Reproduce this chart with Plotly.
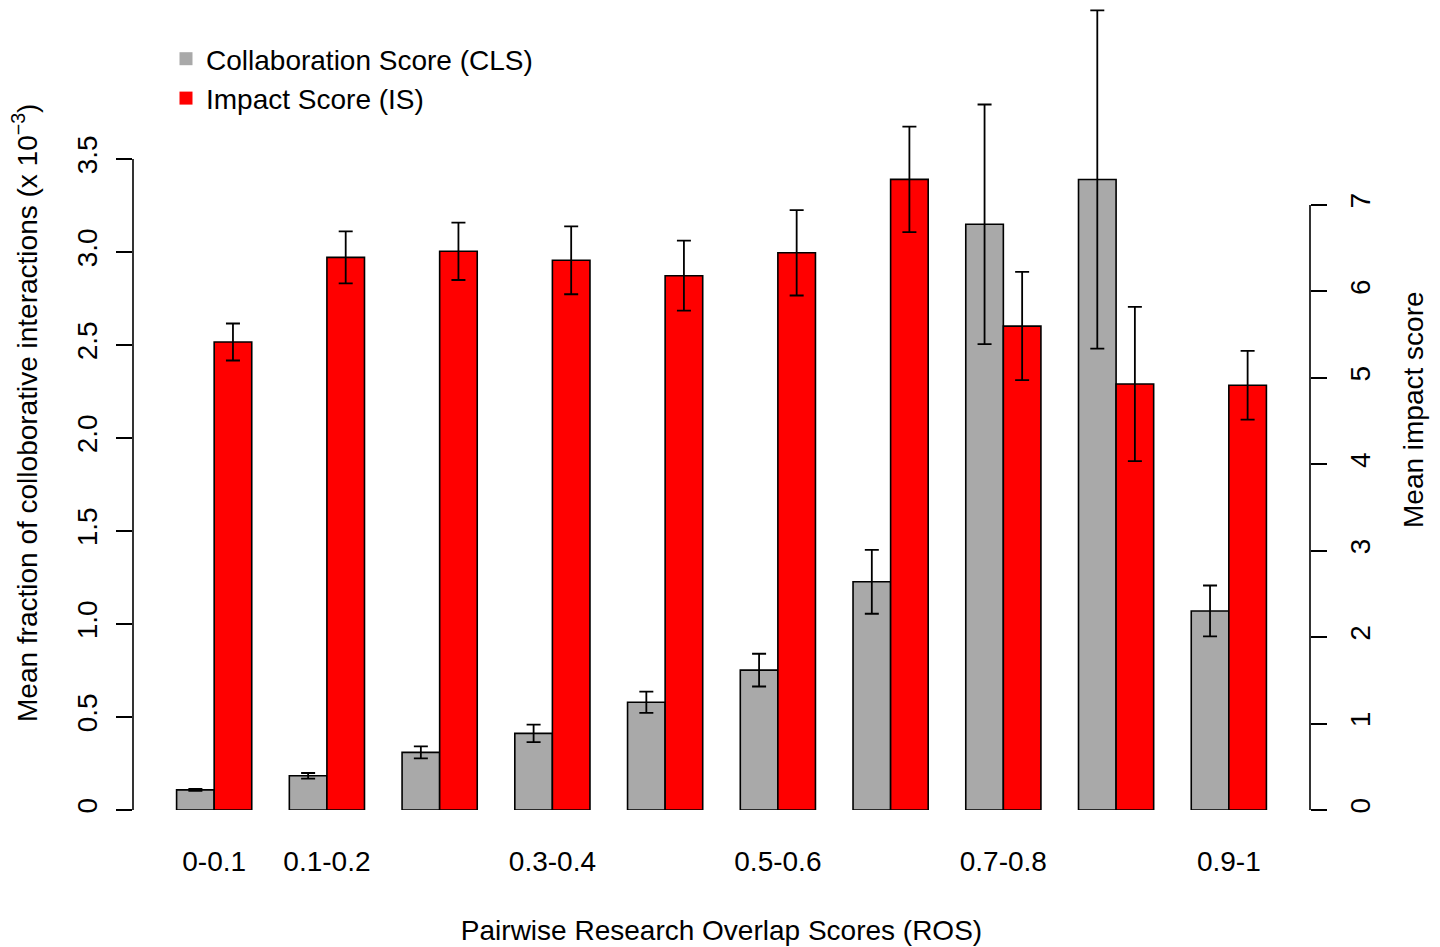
import plotly.graph_objects as go

categories = ["0-0.1", "0.1-0.2", "0.2-0.3", "0.3-0.4", "0.4-0.5",
              "0.5-0.6", "0.6-0.7", "0.7-0.8", "0.8-0.9", "0.9-1"]
shown_labels = ["0-0.1", "0.1-0.2", "0.3-0.4", "0.5-0.6", "0.7-0.8", "0.9-1"]

cls_mean = [0.108, 0.184, 0.310, 0.412, 0.579, 0.752, 1.227, 3.149, 3.390, 1.070]
cls_err = [0.005, 0.015, 0.032, 0.047, 0.057, 0.088, 0.172, 0.644, 0.909, 0.137]
is_mean = [5.415, 6.394, 6.464, 6.360, 6.182, 6.447, 7.296, 5.599, 4.929, 4.914]
is_err = [0.214, 0.300, 0.332, 0.393, 0.405, 0.494, 0.611, 0.626, 0.892, 0.398]

left_ticks = [0, 0.5, 1.0, 1.5, 2.0, 2.5, 3.0, 3.5]
left_ticktext = ["0", "0.5", "1.0", "1.5", "2.0", "2.5", "3.0", "3.5"]
right_ticks = [0, 1, 2, 3, 4, 5, 6, 7]

GREY = "#A9A9A9"
RED = "#FF0000"
FONT = "Liberation Sans, Arial, sans-serif"

# R barplot(beside=TRUE) positions: group stride 3, bar width 1
grey_x = [3 * i + 1.5 for i in range(len(categories))]
red_x = [3 * i + 2.5 for i in range(len(categories))]
tick_x = [3 * categories.index(c) + 2 for c in shown_labels]

fig = go.Figure()
fig.add_trace(go.Bar(
    x=grey_x, y=cls_mean, width=1, yaxis="y",
    marker=dict(color=GREY, line=dict(color="black", width=1.6)),
    error_y=dict(type="data", array=cls_err, visible=True,
                 color="black", thickness=1.8, width=7),
    showlegend=False, name="Collaboration Score (CLS)"))
fig.add_trace(go.Bar(
    x=red_x, y=is_mean, width=1, yaxis="y2",
    marker=dict(color=RED, line=dict(color="black", width=1.6)),
    error_y=dict(type="data", array=is_err, visible=True,
                 color="black", thickness=1.8, width=7),
    showlegend=False, name="Impact Score (IS)"))

# legend entries (plain squares like R's legend)
fig.add_trace(go.Scatter(x=[None], y=[None], mode="markers",
                         marker=dict(symbol="square", size=13, color=GREY),
                         name="Collaboration Score (CLS)"))
fig.add_trace(go.Scatter(x=[None], y=[None], mode="markers",
                         marker=dict(symbol="square", size=13, color=RED),
                         name="Impact Score (IS)"))

# page has an 8px body margin; figure div starts at (8, 8)
W, H = 1432, 939
T, B = 0, 137
L, R = 125, 130
plot_h = H - T - B            # 802 px -> plot bottom at page y = 810
plot_w = W - L - R            # 1177 px -> page x 133..1310
left_px_per_unit = 186.0
right_px_per_unit = 86.43


def px_x(page_x):
    return (page_x - 133) / plot_w


def px_y(page_y):
    return (810 - page_y) / plot_h


fig.update_layout(
    width=W, height=H,
    margin=dict(l=L, r=R, t=T, b=B),
    paper_bgcolor="white", plot_bgcolor="white",
    barmode="overlay",
    font=dict(family=FONT, size=28, color="black"),
    xaxis=dict(range=[-0.16, 31.16], showgrid=False, zeroline=False,
               showline=False, ticks="",
               tickvals=tick_x, ticktext=shown_labels,
               ticklabelstandoff=32,
               tickfont=dict(size=28),
               title=dict(text="Pairwise Research Overlap Scores (ROS)",
                          font=dict(size=28), standoff=44)),
    yaxis=dict(range=[0, plot_h / left_px_per_unit], showgrid=False,
               zeroline=False, showline=False,
               ticks="outside", ticklen=16, tickwidth=1.6, tickcolor="black",
               tickvals=left_ticks, ticktext=left_ticktext,
               tickangle=-90, tickfont=dict(size=28),
               ticklabelstandoff=8),
    yaxis2=dict(range=[0, plot_h / right_px_per_unit], overlaying="y",
                side="right", showgrid=False, zeroline=False, showline=False,
                ticks="outside", ticklen=16, tickwidth=1.6, tickcolor="black",
                tickvals=right_ticks, tickangle=-90, tickfont=dict(size=28),
                ticklabelstandoff=9),
    legend=dict(x=px_x(166), y=px_y(34), xanchor="left", yanchor="top",
                bgcolor="rgba(0,0,0,0)", font=dict(size=28),
                tracegroupgap=0),
    shapes=[
        dict(type="line", xref="paper", yref="y", x0=0, x1=0, y0=0, y1=3.5,
             line=dict(color="black", width=1.6)),
        dict(type="line", xref="paper", yref="y2", x0=1, x1=1, y0=0, y1=7,
             line=dict(color="black", width=1.6)),
    ],
    annotations=[
        dict(text="Mean fraction of colloborative interactions (x 10<sup>\u22123</sup>)",
             xref="paper", yref="paper", x=px_x(25), y=px_y(413),
             xanchor="center", yanchor="middle", textangle=-90, showarrow=False,
             font=dict(size=28)),
        dict(text="Mean impact score",
             xref="paper", yref="paper", x=px_x(1413), y=px_y(410),
             xanchor="center", yanchor="middle", textangle=-90, showarrow=False,
             font=dict(size=28)),
    ],
)

fig.write_html("out.html")
